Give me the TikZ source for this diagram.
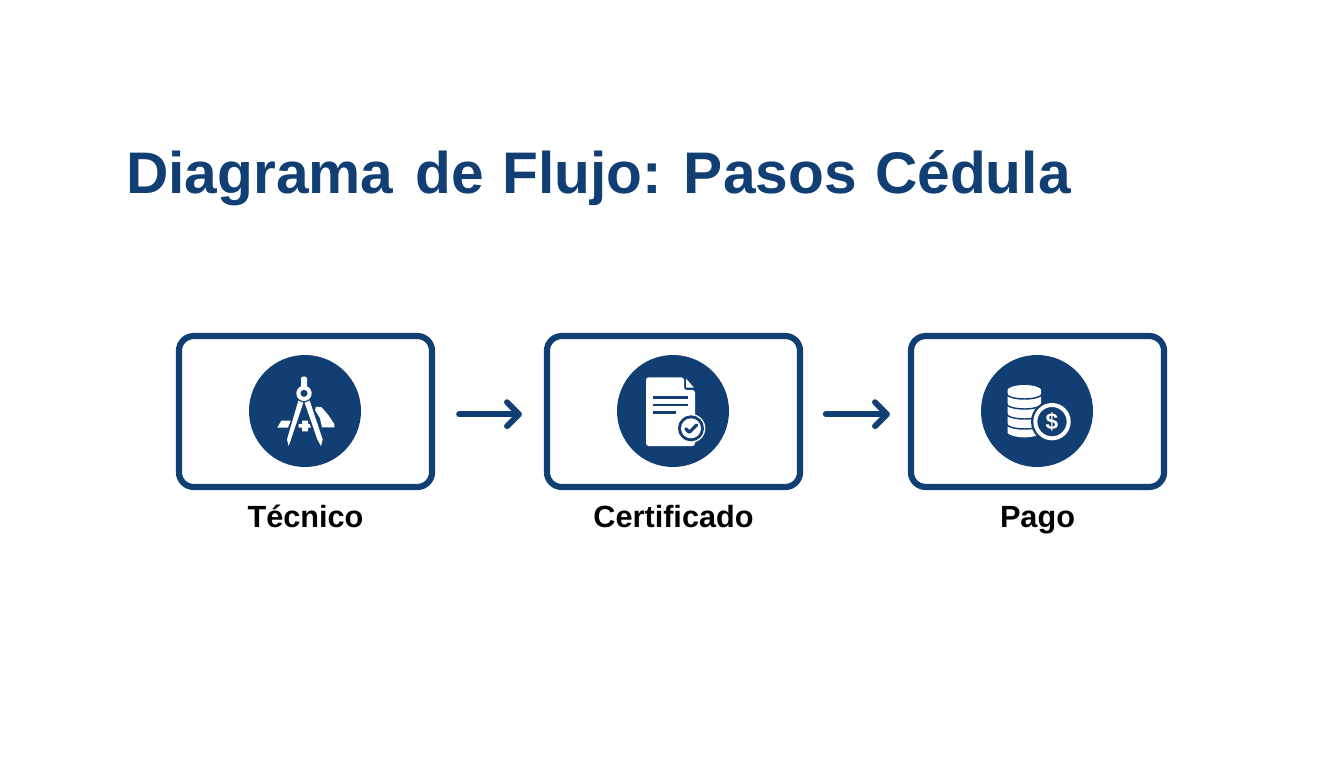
\documentclass[tikz,border=0pt]{standalone}
\usepackage{fontspec}
\setmainfont{Liberation Sans}
\usetikzlibrary{arrows.meta}
\definecolor{navy}{HTML}{123F73}
\tikzset{
  stepbox/.style={draw=navy,line width=4.6pt,rounded corners=11pt,minimum width=189.8pt,minimum height=113.2pt,inner sep=0pt},
  disc/.style={circle,fill=navy,minimum size=84pt,inner sep=0pt},
  flow/.style={draw=navy,line width=4.4pt,line cap=round,-{Straight Barb[length=9pt,width=18pt,line width=4.4pt,round]}},
  steplabel/.style={font=\bfseries\fontsize{23}{26}\selectfont,text=black,anchor=base},
  titletext/.style={font=\bfseries\fontsize{44}{50}\selectfont,text=navy,anchor=base west,inner sep=0pt},
  zoomed/.style={x=0.25pt,y=-0.25pt},
  dk/.style={draw=navy,line cap=round,line join=round},
}
\begin{document}
\begin{tikzpicture}[x=0.75pt,y=-0.75pt]
\useasboundingbox (0,0) rectangle (1344,768);
\fill[white] (0,0) rectangle (1344,768);
\node[titletext] (title) at (126,193) {\frenchspacing Diagrama\hspace{4.5pt} de\hspace{1.5pt} Flujo:\hspace{4pt} Pasos\hspace{1.5pt} Cédula};
\node[stepbox] (b1) at (305.5,411.5) {};
\node[stepbox] (b2) at (673.5,411.5) {};
\node[stepbox] (b3) at (1037.5,411.5) {};
\node[disc] (c1) at (305,411) {};
\node[disc] (c2) at (673,411) {};
\node[disc] (c3) at (1037,411) {};
\node[steplabel] (l1) at (305.5,527) {Técnico};
\node[steplabel] (l2) at (673.5,527) {Certificado};
\node[steplabel] (l3) at (1037.5,527) {Pago};
\draw[flow,shorten <=18pt,shorten >=16.5pt] ([yshift=-2pt]b1.east) -- ([yshift=-2pt]b2.west);
\draw[flow,shorten <=17pt,shorten >=13.5pt] ([yshift=-2pt]b2.east) -- ([yshift=-2pt]b3.west);
% compass
\begin{scope}[shift={(240,350)},zoomed]
\fill[white] (228,170) -- (245,172) -- (265,195) -- (283,222) -- (283,232) -- (246,232) -- (240,205) -- (225,180) -- cycle;
\fill[white] (124,212) -- (152,212) -- (144,233) -- (112,233) -- cycle;
\fill[white] (186,212) -- (204,212) -- (204,222) -- (216,222) -- (216,233) -- (204,233) -- (204,244) -- (186,244) -- (186,233) -- (176,233) -- (176,222) -- (186,222) -- cycle;
\fill[navy] (168,150) -- (192,155) -- (156,290) -- (136,290) -- cycle;
\fill[navy] (216,150) -- (192,155) -- (228,290) -- (252,290) -- cycle;
\fill[white,rounded corners=1pt] (183,80) -- (201,80) -- (201,112) -- (183,112) -- cycle;
\fill[white,even odd rule] (192,130) circle (23) (192,130) circle (11);
\fill[white] (175,152) -- (190,158) -- (153,268) -- (146,288) -- (141,268) -- cycle;
\fill[white] (209,152) -- (194,158) -- (232,268) -- (243,288) -- (248,268) -- cycle;
\end{scope}
% document
\begin{scope}[shift={(610,350)},zoomed]
\fill[white,rounded corners=2pt] (108,82) -- (222,82) -- (222,120) -- (255,120) -- (255,288) -- (108,288) -- cycle;
\fill[white] (228,86) -- (252,113) -- (228,113) -- cycle;
\draw[dk,line width=2pt,line cap=butt] (130,143) -- (235,143) (130,165) -- (235,165) (130,187) -- (197,187);
\fill[white] (243,235) circle (43);
\fill[navy] (243,235) circle (39);
\fill[white] (243,235) circle (30);
\draw[draw=navy,line width=2.4pt,line cap=round,line join=round] (227,236) -- (238,247) -- (260,225);
\end{scope}
% coins
\begin{scope}[shift={(975,350)},zoomed]
\fill[white,rounded corners=1pt] (98,123) arc[start angle=180,end angle=360,x radius=50,y radius=18] -- (198,244) arc[start angle=0,end angle=180,x radius=50,y radius=18] -- cycle;
\foreach \yy in {130,160,190,220} {
  \draw[navy,line width=1.1pt] (94,\yy) arc[start angle=180,end angle=0,x radius=54,y radius=17];
}
\fill[navy] (231,215) circle (63);
\fill[white,even odd rule] (231,215) circle (56) (231,215) circle (44);
\node[text=white,font=\bfseries\fontsize{17}{19}\selectfont,inner sep=0pt] (dollar) at (231,215) {\$};
\end{scope}
\end{tikzpicture}
\end{document}
